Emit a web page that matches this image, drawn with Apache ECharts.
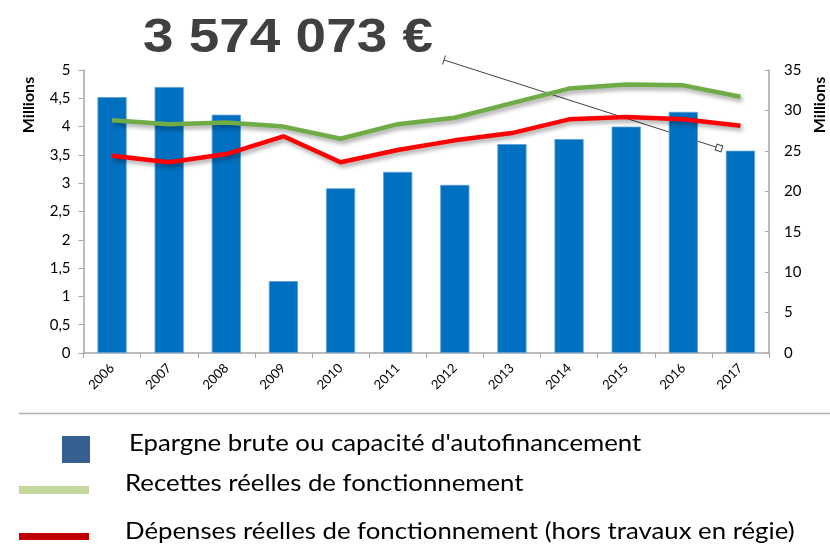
<!DOCTYPE html>
<html>
<head>
<meta charset="utf-8">
<script src="https://cdn.jsdelivr.net/npm/echarts@6/dist/echarts.min.js"></script>
<style>html,body{margin:0;padding:0;background:#fff;}#c{width:830px;height:545px;}</style>
</head>
<body>
<div id="c"></div>
<script>
var years = ['2006','2007','2008','2009','2010','2011','2012','2013','2014','2015','2016','2017'];
var epargne = [4.52, 4.70, 4.21, 1.27, 2.91, 3.20, 2.97, 3.69, 3.78, 4.00, 4.26, 3.574];
var recettes = [28.8, 28.3, 28.5, 28.0, 26.5, 28.3, 29.1, 30.9, 32.7, 33.2, 33.1, 31.7];
var depenses = [24.4, 23.6, 24.6, 26.8, 23.6, 25.1, 26.3, 27.2, 28.9, 29.2, 28.9, 28.1];
var seriesNames = ["Epargne brute ou capacité d'autofinancement", "Recettes réelles de fonctionnement", "Dépenses réelles de fonctionnement (hors travaux en régie)"];
var titleText = '3 574 073 €';
var axisName = 'Millions';

var chart = echarts.init(document.getElementById('c'), null, {renderer: 'canvas'});
var FONT = 'Lato, "Open Sans", sans-serif';
var axisGrey = '#a6a6a6';
var shadow = {shadowColor: 'rgba(0,0,0,0.35)', shadowBlur: 4, shadowOffsetX: 2, shadowOffsetY: 3};
var legendFont = '23px Lato, "Open Sans", sans-serif';

chart.setOption({
  animation: false,
  textStyle: {fontFamily: FONT},
  grid: {left: 83.5, right: 61, top: 70, bottom: 192, containLabel: false},
  xAxis: {
    type: 'category',
    data: years,
    axisLine: {lineStyle: {color: axisGrey, width: 1.5}},
    axisTick: {show: true, length: 5, lineStyle: {color: axisGrey}},
    axisLabel: {rotate: 45, fontSize: 13, color: '#000', margin: 13, fontFamily: FONT}
  },
  yAxis: [{
    type: 'value', min: 0, max: 5, interval: 0.5, position: 'left',
    splitLine: {show: false},
    axisLine: {show: true, lineStyle: {color: axisGrey, width: 1.5}},
    axisTick: {show: true, length: 5, lineStyle: {color: axisGrey}},
    axisLabel: {fontSize: 15, color: '#000', margin: 13, formatter: function (v) { return String(v).replace('.', ','); }}
  }, {
    type: 'value', min: 0, max: 35, interval: 5, position: 'right',
    splitLine: {show: false},
    axisLine: {show: true, lineStyle: {color: axisGrey, width: 1.5}},
    axisTick: {show: true, inside: true, length: 4, lineStyle: {color: axisGrey}},
    axisLabel: {fontSize: 15, color: '#000', margin: 15}
  }],
  series: [{
    name: seriesNames[0], type: 'bar', data: epargne, yAxisIndex: 0,
    barWidth: '51%',
    itemStyle: {color: '#0070C0', borderColor: '#5a9fd8', borderWidth: 0.8}
  }, {
    name: seriesNames[1], type: 'line', data: recettes, yAxisIndex: 1,
    symbol: 'none', smooth: false,
    lineStyle: Object.assign({color: '#6FAC46', width: 4.5}, shadow)
  }, {
    name: seriesNames[2], type: 'line', data: depenses, yAxisIndex: 1,
    symbol: 'none', smooth: false,
    lineStyle: Object.assign({color: '#FF0000', width: 4.5}, shadow)
  }],
  graphic: [
    {type: 'text', x: 288, y: 38, scaleX: 1.12, style: {x: 0, y: 0, text: titleText, font: 'bold 49px "Liberation Sans", Arial, sans-serif', fill: '#404040', textAlign: 'center', textVerticalAlign: 'middle'}},
    {type: 'text', x: 29, y: 105, rotation: Math.PI / 2, style: {x: 0, y: 0, text: axisName, font: 'bold 16px Lato, sans-serif', fill: '#000', textAlign: 'center', textVerticalAlign: 'middle'}},
    {type: 'text', x: 820, y: 105, rotation: Math.PI / 2, style: {x: 0, y: 0, text: axisName, font: 'bold 16px Lato, sans-serif', fill: '#000', textAlign: 'center', textVerticalAlign: 'middle'}},
    {type: 'line', shape: {x1: 444, y1: 60, x2: 719, y2: 148}, style: {stroke: '#404040', lineWidth: 1}},
    {type: 'line', shape: {x1: 442.5, y1: 64.5, x2: 445.5, y2: 55.5}, style: {stroke: '#404040', lineWidth: 1}},
    {type: 'rect', rotation: -0.31, x: 719, y: 148, shape: {x: -3, y: -3, width: 6, height: 6}, style: {stroke: '#404040', fill: '#fff', lineWidth: 1}},
    {type: 'line', shape: {x1: 19, y1: 413.5, x2: 830, y2: 413.5}, style: {stroke: '#b0b0b0', lineWidth: 1.5}},
    {type: 'rect', shape: {x: 62, y: 436, width: 28, height: 27}, style: {fill: '#366092'}},
    {type: 'text', x: 129, y: 444, scaleX: 1.12, style: {x: 0, y: 0, text: seriesNames[0], font: legendFont, fill: '#000', textVerticalAlign: 'middle'}},
    {type: 'rect', shape: {x: 19, y: 486, width: 70, height: 8}, style: {fill: '#C3D69B'}},
    {type: 'text', x: 125, y: 484, scaleX: 1.12, style: {x: 0, y: 0, text: seriesNames[1], font: legendFont, fill: '#000', textVerticalAlign: 'middle'}},
    {type: 'rect', shape: {x: 19, y: 533, width: 70, height: 7}, style: {fill: '#C00000'}},
    {type: 'text', x: 125, y: 532, scaleX: 1.12, style: {x: 0, y: 0, text: seriesNames[2], font: legendFont, fill: '#000', textVerticalAlign: 'middle'}}
  ]
});
</script>
</body>
</html>
